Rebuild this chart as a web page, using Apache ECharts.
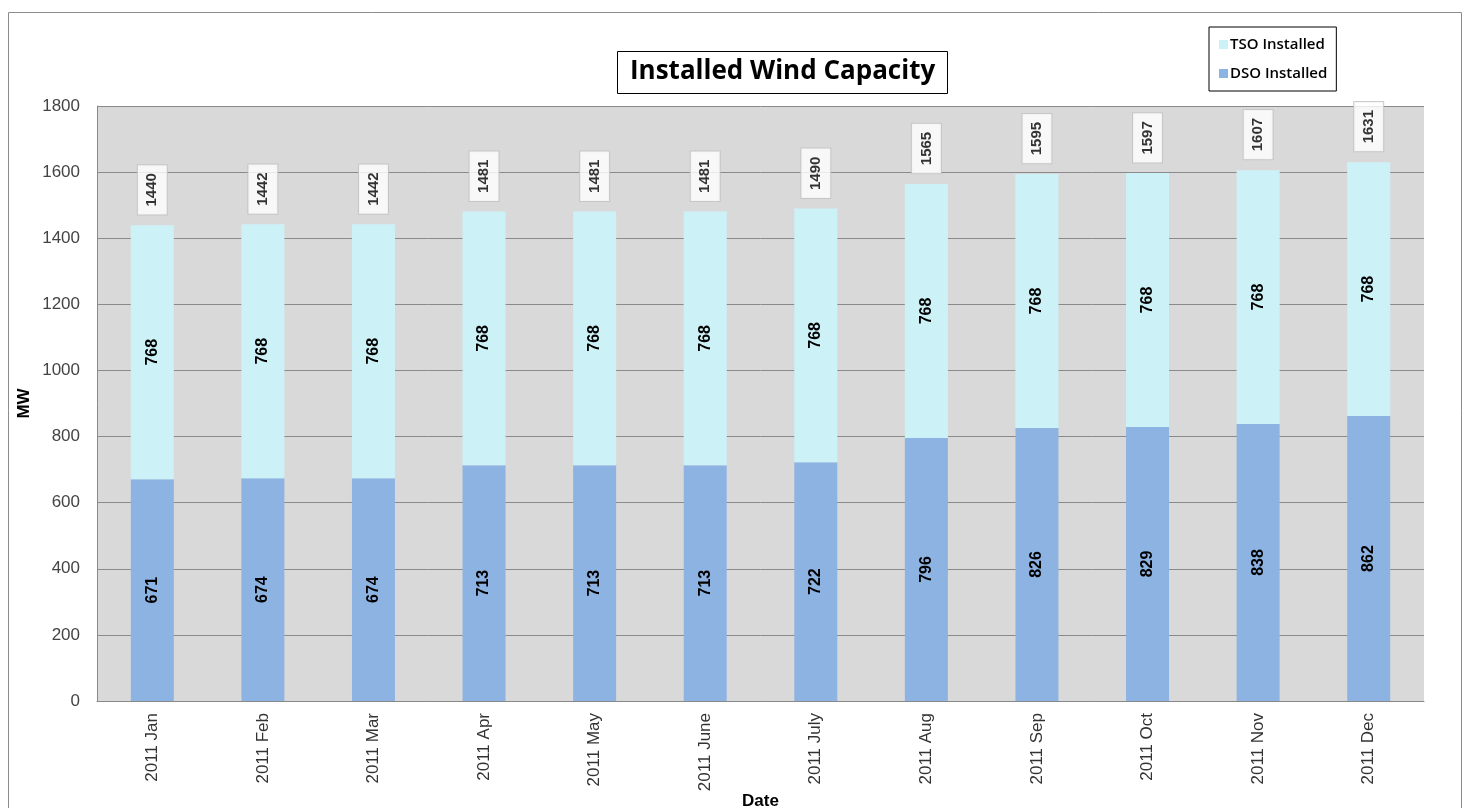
<!DOCTYPE html>
<html>
<head>
<meta charset="utf-8">
<script src="https://cdn.jsdelivr.net/npm/echarts@6/dist/echarts.min.js"></script>
<style>html,body{margin:0;padding:0;background:#fff;}#c{width:1470px;height:808px;}</style>
</head>
<body>
<div id="c"></div>
<script>
const categories = ['2011 Jan','2011 Feb','2011 Mar','2011 Apr','2011 May','2011 June','2011 July','2011 Aug','2011 Sep','2011 Oct','2011 Nov','2011 Dec'];
const dsoInstalled = [671,674,674,713,713,713,722,796,826,829,838,862];
const tsoInstalled = [768,768,768,768,768,768,768,768,768,768,768,768];
const totals = [1440,1442,1442,1481,1481,1481,1490,1565,1595,1597,1607,1631];
const yTicks = {min:0, max:1800, interval:200};

const chart = echarts.init(document.getElementById('c'));
const innerLabel = {show:true, position:'inside', rotate:90, color:'#000', fontFamily:'Liberation Sans, Arial', fontSize:16, fontWeight:'bold'};
chart.setOption({
  animation:false,
  backgroundColor:'#fff',
  graphic:[{type:'rect', shape:{x:8.5,y:12.5,width:1453,height:820}, style:{fill:'none', stroke:'#8c8c8c', lineWidth:1}, silent:true, z:-10}],
  title:{text:'Installed Wind Capacity', left:617, top:51, borderColor:'#000', borderWidth:1, padding:[8,13,9,13],
    textStyle:{fontFamily:'Open Sans', fontWeight:'bold', fontSize:26, color:'#000'}},
  legend:{orient:'vertical', left:1209, top:27, itemWidth:9, itemHeight:9, itemGap:14, borderColor:'#000', borderWidth:1, padding:[10,9,10,10],
    icon:'rect', data:['TSO Installed','DSO Installed'],
    textStyle:{fontFamily:'Open Sans', fontWeight:600, fontSize:15, color:'#000', padding:[0,0,0,-3]}},
  grid:{left:97, right:46, top:106, bottom:107, show:true, backgroundColor:'#d9d9d9', borderWidth:0, outerBoundsMode:'none', containLabel:false},
  xAxis:{type:'category', data:categories, name:'Date', nameLocation:'middle', nameGap:92, nameMoveOverlap:false,
    nameTextStyle:{fontFamily:'Liberation Sans, Arial', fontWeight:'bold', fontSize:17, color:'#000'},
    axisLine:{lineStyle:{color:'#888'}}, axisTick:{show:false},
    axisLabel:{rotate:90, interval:0, fontFamily:'Liberation Sans, Arial', fontSize:17, color:'#333', margin:12}},
  yAxis:{type:'value', min:yTicks.min, max:yTicks.max, interval:yTicks.interval, name:'MW', nameLocation:'middle', nameGap:64, nameMoveOverlap:false,
    nameTextStyle:{fontFamily:'Liberation Sans, Arial', fontWeight:'bold', fontSize:17, color:'#000'},
    axisLine:{show:true, lineStyle:{color:'#888'}}, axisTick:{show:false},
    splitLine:{lineStyle:{color:'#8a8a8a', width:1}},
    axisLabel:{fontFamily:'Liberation Sans, Arial', fontSize:17, color:'#444', margin:17, formatter:function(v){return String(v);}}},
  series:[
    {name:'DSO Installed', type:'bar', stack:'a', data:dsoInstalled, barWidth:43, itemStyle:{color:'#8db3e2'}, label:innerLabel},
    {name:'TSO Installed', type:'bar', stack:'a', data:tsoInstalled, barWidth:43, itemStyle:{color:'#ccf2f8'}, label:innerLabel},
    {name:'Total', type:'scatter', data:totals, symbolSize:1, itemStyle:{color:'rgba(0,0,0,0)'},
      label:{show:true, position:'top', distance:10, rotate:90, align:'left', verticalAlign:'middle', color:'#000',
        fontFamily:'Liberation Sans, Arial', fontSize:15, fontWeight:'bold', backgroundColor:'#fff', borderColor:'#c0c0c0', borderWidth:1, padding:[7,8,7,8]}}
  ]
});
</script>
</body>
</html>
